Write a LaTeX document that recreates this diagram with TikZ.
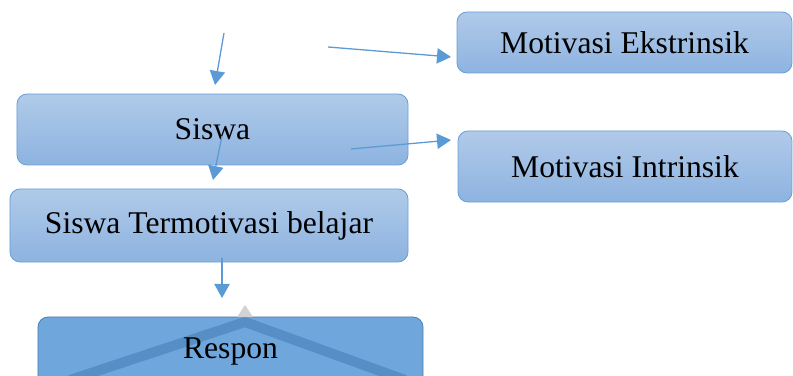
\documentclass[tikz,border=0pt]{standalone}
\usepackage{fontspec}
\setmainfont{Liberation Serif}
\usetikzlibrary{arrows.meta}
\definecolor{boxtop}{HTML}{B0CAE9}
\definecolor{boxbot}{HTML}{8DB3E0}
\definecolor{boxline}{HTML}{6A9FD6}
\definecolor{arrline}{HTML}{5B9BD5}
\definecolor{resfill}{HTML}{6FA6DC}
\definecolor{resline}{HTML}{4F7FB2}
\definecolor{resmark}{HTML}{4D84BE}
\tikzset{
  box/.style={draw=boxline, line width=0.7pt, rounded corners=0.3cm,
    top color=boxtop, bottom color=boxbot, inner sep=0pt,
    font=\fontsize{27}{32}\selectfont},
  arr/.style={draw=arrline, line width=1.1pt,
    -{Triangle[length=0.42cm,width=0.46cm]}}
}
\begin{document}
\begin{tikzpicture}[x=0.03cm,y=-0.03cm]
\useasboundingbox (0,0) rectangle (793,376);
\clip (0,0) rectangle (793,376);

\node[box,minimum width=11.73cm,minimum height=2.13cm] (siswa) at (212.5,129.5) {Siswa};
\node[box,minimum width=10.05cm,minimum height=1.83cm] (ekst) at (624.5,42.5) {Motivasi Ekstrinsik};
\node[box,minimum width=10.02cm,minimum height=2.13cm] (intr) at (625,166.5) {Motivasi Intrinsik};
\node[box,minimum width=11.94cm,minimum height=2.19cm] (termo) at (209,225.5) {Siswa Termotivasi belajar};
\node[box,draw=resline,shading=axis,top color=resfill,bottom color=resfill,minimum width=11.55cm,minimum height=2.1cm] (respon) at (230.5,352) {};

% watermark on the last box
\begin{scope}
\clip (respon.south west) rectangle (respon.north east);
\draw[resmark,line width=0.3cm,opacity=0.7] (70,380) -- (245,322) -- (405,380);
\end{scope}
\fill[gray!35] (237,317) -- (245,305) -- (253,317) -- cycle;
\node[font=\fontsize{27}{32}\selectfont] (restext) at (respon.center) {Respon};

\coordinate (top1) at (224,33);
\coordinate (top2) at (328,47);
\coordinate (mid1) at (351,149);
\coordinate (mid2) at (222,136);
\coordinate (low1) at (222,258);
\coordinate (tip1) at (215,85);
\coordinate (tip2) at (451,57);
\coordinate (tip3) at (451,140);
\coordinate (tip4) at (213,180);
\coordinate (tip5) at (222,298);

\draw[arr] (top1) -- (tip1);
\draw[arr] (top2) -- (tip2);
\draw[arr] (mid1) -- (tip3);
\draw[arr] (mid2) -- (tip4);
\draw[arr] (low1) -- (tip5);
\end{tikzpicture}
\end{document}
